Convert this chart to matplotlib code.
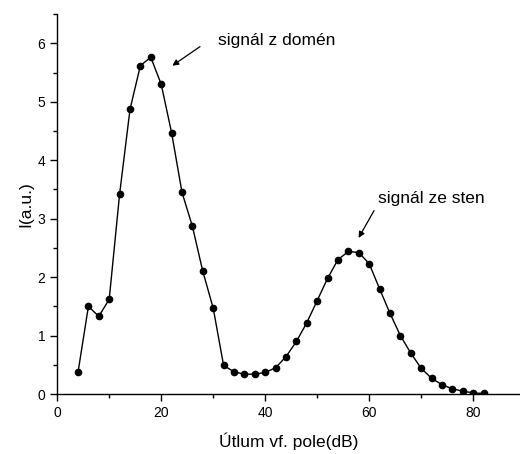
import matplotlib
matplotlib.use("Agg")
import matplotlib.pyplot as plt
from matplotlib.ticker import MultipleLocator

plt.rcParams["font.family"] = ["Liberation Sans", "DejaVu Sans"]

# attenuation (dB) and intensity (a.u.)
utlum = [4, 6, 8, 10, 12, 14, 16, 18, 20, 22, 24, 26, 28, 30, 32, 34, 36, 38, 40, 42,
         44, 46, 48, 50, 52, 54, 56, 58, 60, 62, 64, 66, 68, 70, 72, 74, 76, 78, 80, 82]
intenzita = [0.37, 1.50, 1.33, 1.62, 3.42, 4.87, 5.62, 5.76, 5.30, 4.47, 3.45, 2.87, 2.10,
             1.47, 0.49, 0.38, 0.34, 0.34, 0.37, 0.45, 0.64, 0.90, 1.22, 1.60, 1.98, 2.30,
             2.44, 2.42, 2.23, 1.80, 1.38, 1.00, 0.70, 0.44, 0.27, 0.16, 0.09, 0.05, 0.02, 0.01]

fig = plt.figure(figsize=(5.2, 4.54), dpi=100)
ax = fig.add_axes([0.11, 0.132, 0.89, 0.837])
ax.plot(utlum, intenzita, "-o", color="k", lw=1.0, ms=4.5)

ax.set_xlim(0, 89)
ax.set_ylim(0, 6.5)
ax.xaxis.set_major_locator(MultipleLocator(20))
ax.xaxis.set_minor_locator(MultipleLocator(10))
ax.yaxis.set_major_locator(MultipleLocator(1))
ax.yaxis.set_minor_locator(MultipleLocator(0.5))
ax.tick_params(which="major", length=5, width=1, labelsize=10)
ax.tick_params(which="minor", length=3, width=1)
for s in ("top", "right"):
    ax.spines[s].set_visible(False)
for s in ("left", "bottom"):
    ax.spines[s].set_linewidth(1.0)

ax.set_xlabel("Útlum vf. pole(dB)", fontsize=12.5, labelpad=9)
ax.set_ylabel("I(a.u.)", fontsize=12.5, labelpad=3)

arrow = dict(arrowstyle="-|>", color="k", lw=0.9, mutation_scale=9)
ax.annotate("", xy=(21.7, 5.59), xytext=(27.9, 5.97), arrowprops=arrow)
ax.text(31, 6.05, "signál z domén", fontsize=12.5, va="center", ha="left")
ax.annotate("", xy=(57.7, 2.63), xytext=(61.2, 3.18), arrowprops=arrow)
ax.text(61.7, 3.35, "signál ze sten", fontsize=12.5, va="center", ha="left")

fig.savefig("out.png", dpi=100)
